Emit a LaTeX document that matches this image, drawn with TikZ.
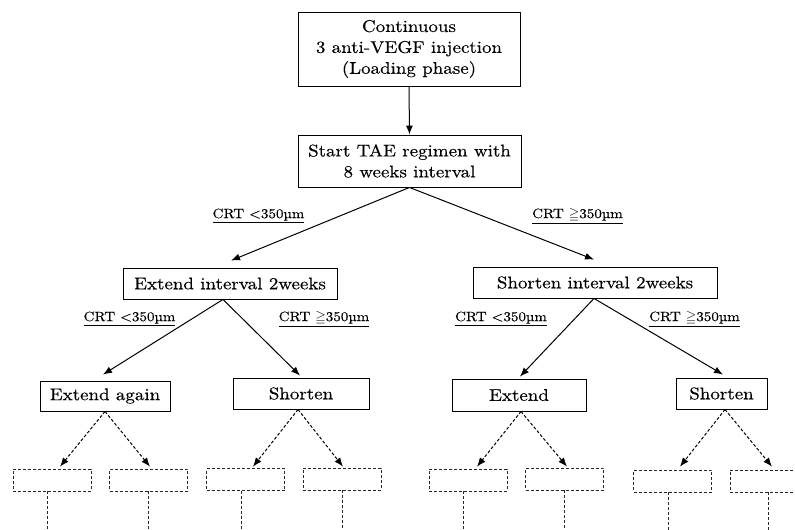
\documentclass[tikz,border=0pt]{standalone}
\usepackage{amssymb}
\usepackage{fontspec}
\setmainfont{lmroman10-regular.otf}[FakeStretch=1.12,FakeBold=0.3]
\usetikzlibrary{arrows.meta}
\begin{document}
\begin{tikzpicture}[x=1bp,y=-1bp,
  box/.style={draw, line width=0.9bp, inner sep=0pt, align=center, font=\fontsize{17}{21}\selectfont},
  dbox/.style={draw=black!85, dash pattern=on 3bp off 2bp, line width=0.7bp, inner sep=0pt, minimum width=78bp, minimum height=22bp},
  arr/.style={-{Latex[length=9bp,width=7bp]}, line width=1bp},
  darr/.style={arr, dash pattern=on 3bp off 2bp},
  dline/.style={draw=black!85, dash pattern=on 3bp off 2bp, line width=0.7bp},
  lab/.style={font=\fontsize{13.5}{16}\selectfont, inner sep=0pt}]
\clip (0,0) rectangle (795,530);
% main boxes
\node[box, minimum width=222bp, minimum height=74bp] (top) at (409,49) {Continuous\\3 anti-VEGF injection\\(Loading phase)};
\node[box, minimum width=223bp, minimum height=52bp] (tae) at (409.5,161) {Start TAE regimen with\\8 weeks interval};
\node[box, minimum width=214bp, minimum height=31bp] (ext) at (230,283.5) {Extend interval 2weeks};
\node[box, minimum width=244bp, minimum height=31bp] (sho) at (595,282.5) {Shorten interval 2weeks};
\node[box, minimum width=130bp, minimum height=30bp] (ea) at (105,396) {Extend again};
\node[box, minimum width=136bp, minimum height=31bp] (s1) at (301,393.5) {Shorten};
\node[box, minimum width=134bp, minimum height=32bp] (e2) at (519,395) {Extend};
\node[box, minimum width=91bp, minimum height=31bp] (s2) at (721.5,393.5) {Shorten};
% dashed boxes
\node[dbox] (d1) at (52,480) {};
\node[dbox] (d2) at (148.5,480) {};
\node[dbox] (d3) at (245.5,479.5) {};
\node[dbox] (d4) at (342,479) {};
\node[dbox] (d5) at (468,480) {};
\node[dbox] (d6) at (564.5,479) {};
\node[dbox] (d7) at (672.5,481) {};
\node[dbox] (d8) at (769,481) {};
% labels
\node[lab] (c1) at (258.5,216) {\underline{CRT <350µm}};
\node[lab] (c2) at (577.5,216) {\underline{CRT $\geqq$350µm}};
\node[lab] (c3) at (129.5,319) {\underline{CRT <350µm}};
\node[lab] (c4) at (324,319) {\underline{CRT $\geqq$350µm}};
\node[lab] (c5) at (501,319) {\underline{CRT <350µm}};
\node[lab] (c6) at (694.5,319) {\underline{CRT $\geqq$350µm}};
% arrows
\draw[arr] (top.south) -- (tae.north);
\draw[arr] (tae.south) -- ([xshift=1bp,yshift=7bp]ext.north);
\draw[arr] (tae.south) -- ([xshift=-1bp,yshift=7bp]sho.north);
\draw[arr] ([xshift=-7bp]ext.south) -- ([xshift=-2bp,yshift=6bp]ea.north);
\draw[arr] ([xshift=-7bp]ext.south) -- ([xshift=-1bp,yshift=2bp]s1.north);
\draw[arr] ([xshift=-1bp]sho.south) -- ([xshift=1bp,yshift=2bp]e2.north);
\draw[arr] ([xshift=-1bp]sho.south) -- ([xshift=1.5bp,yshift=3bp]s2.north);
% dashed arrows
\draw[darr] (ea.south) -- ([xshift=8bp,yshift=2bp]d1.north);
\draw[darr] (ea.south) -- ([xshift=1.5bp,yshift=2bp]d2.north);
\draw[darr] ([xshift=-3bp]s1.south) -- ([xshift=7.5bp,yshift=1.5bp]d3.north);
\draw[darr] ([xshift=-3bp]s1.south) -- ([xshift=1bp,yshift=1bp]d4.north);
\draw[darr] ([xshift=2bp]e2.south) -- ([xshift=9bp,yshift=2bp]d5.north);
\draw[darr] ([xshift=2bp]e2.south) -- ([xshift=2.5bp,yshift=1bp]d6.north);
\draw[darr] ([xshift=3.5bp]s2.south) -- ([xshift=7.5bp,yshift=3bp]d7.north);
\draw[darr] ([xshift=3.5bp]s2.south) -- ([xshift=3bp,yshift=3bp]d8.north);
% dashed stems
\coordinate (b1) at (47,530);
\coordinate (b2) at (148,530);
\coordinate (b3) at (241,530);
\coordinate (b4) at (342,530);
\coordinate (b5) at (463,530);
\coordinate (b6) at (564,530);
\coordinate (b7) at (668,530);
\coordinate (b8) at (768,530);
\draw[dline] (d1.south -| b1) -- (b1);
\draw[dline] (d2.south -| b2) -- (b2);
\draw[dline] (d3.south -| b3) -- (b3);
\draw[dline] (d4.south -| b4) -- (b4);
\draw[dline] (d5.south -| b5) -- (b5);
\draw[dline] (d6.south -| b6) -- (b6);
\draw[dline] (d7.south -| b7) -- (b7);
\draw[dline] (d8.south -| b8) -- (b8);
\end{tikzpicture}
\end{document}
